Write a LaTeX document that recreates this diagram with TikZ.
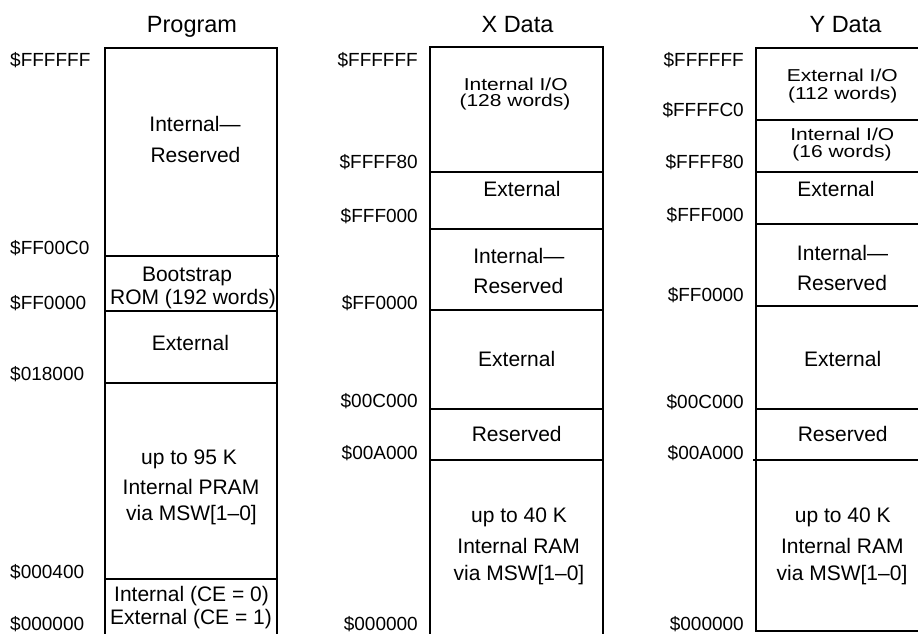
\documentclass[tikz,border=0pt]{standalone}
\usepackage{fontspec}
\setmainfont{Liberation Sans}
\begin{document}
\begin{tikzpicture}[x=1pt,y=-1pt,
  wall/.style={draw=black, line width=1.8pt},
  title/.style={font=\fontsize{23.5}{28}\selectfont, anchor=base, inner sep=0pt},
  addrL/.style={font=\fontsize{19}{23}\selectfont, anchor=base west, inner sep=0pt},
  addrR/.style={font=\fontsize{19}{23}\selectfont, anchor=base east, inner sep=0pt},
  lbl/.style={font=\fontsize{21}{25}\selectfont, anchor=base, inner sep=0pt},
]
\clip (0,0) rectangle (918,633);
\newcommand{\squash}[1]{\scalebox{1}[0.82]{#1}}

% ---------------- Program memory ----------------
\node[title] (p-title) at (192,32.3) {Program};
\draw[wall] (105,48) rectangle (277,645);
\draw[wall] (105,256) -- (279,256);
\draw[wall] (105,311) -- (277,311);
\draw[wall] (105,383) -- (277,383);
\draw[wall] (105,579) -- (277,579);

\node[addrL] (p-a1) at (10,66.7) {\$FFFFFF};
\node[addrL] (p-a2) at (10,254) {\$FF00C0};
\node[addrL] (p-a3) at (10,309.3) {\$FF0000};
\node[addrL] (p-a4) at (10,380) {\$018000};
\node[addrL] (p-a5) at (10,578.3) {\$000400};
\node[addrL] (p-a6) at (10,630) {\$000000};

\node[lbl] (p-r1a) at (195,131.7) {Internal—};
\node[lbl] (p-r1b) at (195.5,162.3) {Reserved};
\node[lbl] (p-r2a) at (187,281.7) {Bootstrap};
\node[lbl] (p-r2b) at (193,304) {ROM (192 words)};
\node[lbl] (p-r3) at (190.5,350) {External};
\node[lbl] (p-r4a) at (189,464) {up to 95 K};
\node[lbl] (p-r4b) at (191,494) {Internal PRAM};
\node[lbl] (p-r4c) at (191.5,520.7) {via MSW[1–0]};
\node[lbl] (p-r5a) at (191.5,601.7) {Internal (CE = 0)};
\node[lbl] (p-r5b) at (191,624) {External (CE = 1)};

% ---------------- X data memory ----------------
\node[title] (x-title) at (517.5,32.3) {X Data};
\draw[wall] (430,47) rectangle (603,645);
\draw[wall] (430,172) -- (603,172);
\draw[wall] (430,229) -- (603,229);
\draw[wall] (430,310) -- (603,310);
\draw[wall] (430,409) -- (603,409);
\draw[wall] (430,460) -- (603,460);

\node[addrR] (x-a1) at (418,66.7) {\$FFFFFF};
\node[addrR] (x-a2) at (418,168.3) {\$FFFF80};
\node[addrR] (x-a3) at (418,222.7) {\$FFF000};
\node[addrR] (x-a4) at (418,309.3) {\$FF0000};
\node[addrR] (x-a5) at (418,407.7) {\$00C000};
\node[addrR] (x-a6) at (418,459) {\$00A000};
\node[addrR] (x-a7) at (418,630) {\$000000};

\node[lbl] (x-r1a) at (515.7,90) {\squash{Internal I/O}};
\node[lbl] (x-r1b) at (515,106.7) {\squash{(128 words)}};
\node[lbl] (x-r2) at (522,196.7) {External};
\node[lbl] (x-r3a) at (518.8,263.3) {Internal—};
\node[lbl] (x-r3b) at (518.3,293.3) {Reserved};
\node[lbl] (x-r4) at (516.7,366.7) {External};
\node[lbl] (x-r5) at (516.7,441.7) {Reserved};
\node[lbl] (x-r6a) at (519,522.7) {up to 40 K};
\node[lbl] (x-r6b) at (518.7,553.3) {Internal RAM};
\node[lbl] (x-r6c) at (519,580) {via MSW[1–0]};

% ---------------- Y data memory ----------------
\node[title] (y-title) at (845.5,32.3) {Y Data};
\draw[wall] (756,48) rectangle (935,631);
\draw[wall] (756,120) -- (935,120);
\draw[wall] (756,172) -- (935,172);
\draw[wall] (756,224) -- (935,224);
\draw[wall] (756,306) -- (935,306);
\draw[wall] (756,409) -- (935,409);
\draw[wall] (753,460) -- (935,460);

\node[addrR] (y-a1) at (744,66.7) {\$FFFFFF};
\node[addrR] (y-a2) at (744,116.7) {\$FFFFC0};
\node[addrR] (y-a3) at (744,168.3) {\$FFFF80};
\node[addrR] (y-a4) at (744,221.7) {\$FFF000};
\node[addrR] (y-a5) at (744,301.7) {\$FF0000};
\node[addrR] (y-a6) at (744,408.3) {\$00C000};
\node[addrR] (y-a7) at (744,459) {\$00A000};
\node[addrR] (y-a8) at (744,630) {\$000000};

\node[lbl] (y-r1a) at (842.3,81.7) {\squash{External I/O}};
\node[lbl] (y-r1b) at (842.7,99.3) {\squash{(112 words)}};
\node[lbl] (y-r2a) at (842.3,140) {\squash{Internal I/O}};
\node[lbl] (y-r2b) at (842,157.3) {\squash{(16 words)}};
\node[lbl] (y-r3) at (836,196.7) {External};
\node[lbl] (y-r4a) at (842.5,260) {Internal—};
\node[lbl] (y-r4b) at (842,290) {Reserved};
\node[lbl] (y-r5) at (842.7,366.7) {External};
\node[lbl] (y-r6) at (842.7,441.7) {Reserved};
\node[lbl] (y-r7a) at (842.7,522.7) {up to 40 K};
\node[lbl] (y-r7b) at (842.3,553.3) {Internal RAM};
\node[lbl] (y-r7c) at (842,580) {via MSW[1–0]};
\end{tikzpicture}
\end{document}
